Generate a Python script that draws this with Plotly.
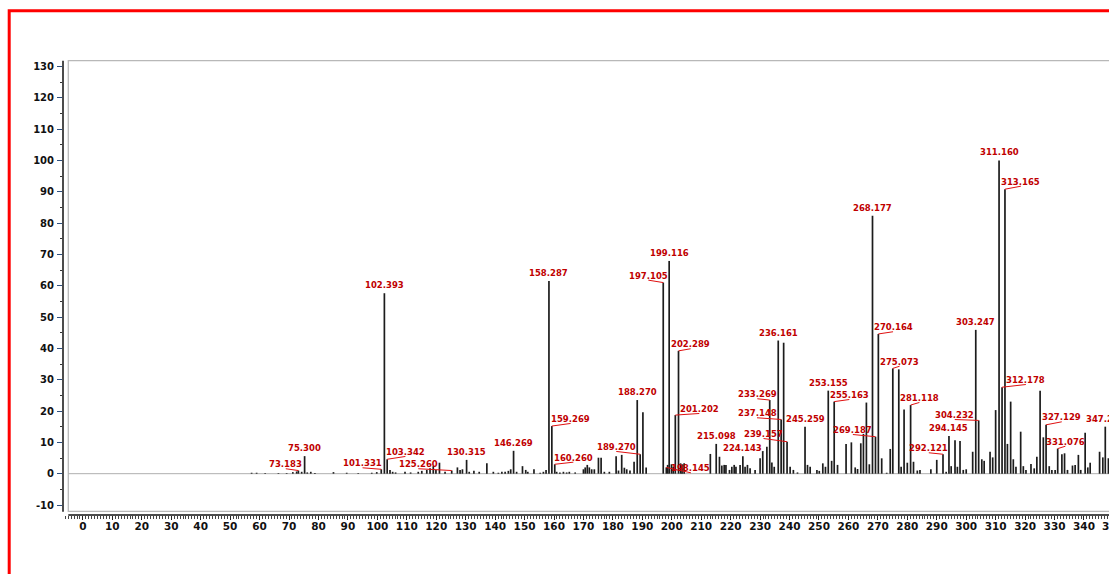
import plotly.graph_objects as go

# ---- spectrum data: m/z and relative abundance (%) ----
peak_mz = [
    57.3, 59.0, 61.9, 66.4, 69.2, 71.3, 72.6, 73.183, 74.3, 75.300, 76.2, 77.4, 78.8,
    85.1, 89.6, 93.5, 98.1, 99.8, 101.331, 102.393, 103.342, 104.3, 105.2, 106.2,
    109.4, 111.3, 113.9, 115.1, 116.8, 117.9, 119.0, 119.9, 121.1, 123.0, 125.260,
    127.2, 128.1, 128.9, 130.315, 131.2, 132.8, 134.6, 137.2, 139.4, 141.1, 142.3,
    143.4, 144.5, 145.3, 146.269, 147.3, 149.3, 150.4, 151.1, 153.2, 155.3, 156.4,
    157.3, 158.287, 159.269, 160.260, 160.9, 162.0, 163.2, 164.3, 165.2, 167.2,
    170.0, 170.6, 171.3, 172.0, 172.8, 173.7, 175.1, 176.0, 177.1, 178.8, 181.1,
    181.9, 183.0, 183.9, 184.7, 185.8, 187.2, 188.270, 189.270, 190.2, 191.3,
    197.105, 198.145, 198.6, 199.116, 199.9, 200.5, 201.202, 202.289, 203.0, 203.5,
    204.2, 213.1, 215.098, 216.2, 217.0, 217.8, 218.4, 219.6, 220.4, 221.2, 221.8,
    223.2, 224.143, 224.9, 225.7, 226.6, 228.3, 230.0, 230.9, 232.3, 233.269, 234.0,
    234.8, 236.161, 237.148, 238.0, 239.157, 240.2, 241.3, 242.7, 245.259, 246.1,
    247.0, 249.3, 250.1, 251.3, 252.2, 253.155, 254.3, 255.163, 256.3, 259.2, 261.0,
    262.3, 263.1, 264.2, 265.1, 266.1, 267.1, 268.177, 269.187, 270.164, 271.3,
    273.0, 274.2, 275.073, 277.1, 277.9, 278.9, 280.0, 281.118, 282.1, 283.4, 284.3,
    288.0, 290.0, 292.121, 293.2, 294.145, 294.9, 296.2, 297.0, 297.9, 299.0, 300.0,
    302.2, 303.247, 304.232, 305.3, 306.1, 308.1, 309.0, 310.0, 311.160, 312.178,
    313.165, 314.0, 315.1, 316.0, 316.9, 318.5, 319.4, 320.3, 322.0, 323.1, 324.0,
    325.1, 326.2, 327.129, 328.2, 329.1, 330.2, 331.076, 332.5, 333.4, 334.4, 336.1,
    337.0, 338.1, 338.9, 340.4, 341.3, 342.1, 345.3, 346.4, 347.237, 348.3,
]
peak_int = [
    0.3, 0.3, 0.2, 0.2, 0.2, 0.5, 0.7, 1.0, 0.6, 5.6, 0.4, 0.6, 0.2,
    0.5, 0.3, 0.2, 0.3, 0.5, 1.4, 57.6, 4.6, 1.2, 0.6, 0.4,
    0.6, 0.4, 0.6, 0.9, 1.2, 1.7, 2.4, 1.2, 3.5, 0.6, 1.0,
    2.0, 1.2, 1.4, 4.4, 0.6, 0.9, 0.6, 3.3, 0.6, 0.3, 0.6,
    0.6, 0.9, 1.4, 7.3, 0.6, 2.4, 1.2, 0.6, 1.4, 0.3, 0.6,
    1.2, 61.5, 15.2, 3.0, 0.6, 0.4, 0.6, 0.4, 0.6, 0.4,
    1.4, 2.0, 2.8, 2.0, 1.4, 1.4, 5.1, 5.1, 0.6, 0.6, 5.6,
    1.0, 6.0, 1.9, 1.4, 1.0, 3.8, 23.5, 6.2, 19.6, 2.0,
    61.0, 2.0, 2.8, 67.9, 3.0, 2.2, 18.7, 39.2, 3.3, 3.0,
    3.3, 6.3, 9.5, 5.4, 2.6, 2.8, 2.8, 1.2, 2.2, 2.8, 2.2,
    2.8, 5.6, 2.2, 2.8, 1.7, 1.2, 4.9, 7.2, 8.6, 23.5, 3.6,
    2.2, 42.5, 17.3, 41.8, 10.2, 2.2, 1.2, 0.4, 15.0, 2.8,
    2.2, 1.2, 0.9, 3.3, 2.2, 26.5, 4.1, 23.0, 2.8, 9.5, 10.0,
    2.0, 1.5, 9.7, 12.7, 22.7, 3.0, 82.3, 11.8, 44.6, 4.9,
    0.3, 7.9, 33.6, 33.3, 2.2, 20.5, 3.5, 21.9, 3.8, 1.0, 1.2,
    1.4, 4.4, 6.2, 0.6, 12.0, 2.4, 10.7, 2.2, 10.4, 1.2, 1.4,
    7.0, 45.9, 17.0, 4.6, 4.1, 7.0, 5.2, 20.3, 100.0, 27.6,
    90.8, 9.5, 23.0, 4.6, 2.2, 13.4, 2.4, 1.2, 3.1, 1.7, 5.4,
    26.5, 11.6, 15.6, 2.4, 1.2, 1.2, 8.0, 6.2, 6.5, 1.2, 2.6,
    2.8, 6.0, 1.2, 13.1, 2.0, 3.5, 7.0, 5.2, 15.0, 4.9,
]

# peaks annotated straight above the stick
top_labels = [75.300, 102.393, 130.315, 146.269, 158.287, 188.270, 199.116,
              215.098, 224.143, 236.161, 245.259, 253.155, 268.177, 294.145,
              303.247, 311.160, 347.237]
# peaks annotated beside the stick with a leader line
side_labels = [73.183, 101.331, 103.342, 125.260, 159.269, 160.260, 189.270,
               197.105, 198.145, 201.202, 202.289, 233.269, 237.148, 239.157,
               255.163, 269.187, 270.164, 275.073, 281.118, 292.121, 304.232,
               312.178, 313.165, 327.129, 331.076]

x_ticks = list(range(0, 351, 10))
y_ticks = list(range(-10, 131, 10))

# ---- layout geometry ----
W, H = 1109, 574
ML, MT, MB = 63, 60, 59
X_RANGE = [-6.76, 348.5]
Y_RANGE = [-13.19, 132.04]

# label offsets from the stick tip, in pixels (right, down)
side_offset = {
    73.183: (-12.6, -6.3), 101.331: (-18.7, -6.0), 103.342: (18.2, -7.3),
    125.260: (-33.4, -6.3), 159.269: (18.7, -7.1), 160.260: (18.6, -6.6),
    189.270: (-23.9, -7.3), 197.105: (-14.9, -6.9), 198.145: (24.6, 0.9),
    201.202: (24.0, -6.1), 202.289: (12.1, -6.6), 233.269: (-12.4, -5.8),
    237.148: (-24.1, -6.2), 239.157: (-23.5, -7.7), 255.163: (15.1, -6.6),
    269.187: (-22.6, -6.7), 270.164: (14.7, -6.7), 275.073: (6.8, -6.7),
    281.118: (8.8, -7.1), 292.121: (-14.2, -6.0), 304.232: (-23.9, -5.4),
    312.178: (23.8, -7.2), 313.165: (15.9, -7.5), 327.129: (15.7, -7.5),
    331.076: (7.7, -6.9),
}

abundance = dict(zip(peak_mz, peak_int))

# sticks: one polyline broken by gaps
xs, ys = [], []
for m, a in zip(peak_mz, peak_int):
    xs += [m, m, None]
    ys += [0, a, None]

fig = go.Figure()
fig.add_trace(go.Scatter(x=xs, y=ys, mode="lines",
                         line=dict(color="#1c1c1c", width=1.7),
                         hoverinfo="skip", showlegend=False))

label_font = dict(family="DejaVu Sans", size=8.5, color="#c00000", weight="bold")
annotations = []
shapes = []

for m in top_labels:
    annotations.append(dict(x=m, y=abundance[m], xref="x", yref="y",
                            text=f"{m:.3f}", showarrow=False,
                            xanchor="center", yanchor="bottom", yshift=1,
                            font=label_font))

for m in side_labels:
    dx, dy = side_offset[m]
    annotations.append(dict(x=m, y=abundance[m], xref="x", yref="y",
                            text=f"{m:.3f}", showarrow=False,
                            xanchor="center", yanchor="middle",
                            xshift=dx, yshift=-dy, font=label_font))
    shapes.append(dict(type="line", xref="x", yref="y",
                       xsizemode="pixel", ysizemode="pixel",
                       xanchor=m, yanchor=abundance[m],
                       x0=0, y0=0, x1=dx, y1=-(dy + 4.5),
                       line=dict(color="#e01010", width=1)))

tick_font = dict(family="DejaVu Sans", size=10.5, color="#111", weight="bold")

# tick label that sits just past the right edge of the axis
x_span = X_RANGE[1] - X_RANGE[0]
edge_tick = x_ticks[-1]
annotations.append(dict(x=(edge_tick - X_RANGE[0]) / x_span, y=0,
                        xref="paper", yref="paper", text=str(edge_tick),
                        showarrow=False, xanchor="center", yanchor="top", yshift=-3,
                        font=tick_font))

plot_w = W - ML
plot_h = H - MT - MB
px_x = lambda p: (p - ML) / plot_w
px_y = lambda p: (H - MB - p) / plot_h

# outer red frame
shapes.append(dict(type="rect", xref="paper", yref="paper",
                   x0=px_x(9.2), x1=1.3, y0=-0.4, y1=px_y(10.8),
                   line=dict(color="#ff0000", width=3), layer="above"))
# light grey plot frame
shapes.append(dict(type="rect", xref="paper", yref="paper",
                   x0=px_x(68.3), x1=1.2, y0=px_y(511.3), y1=px_y(60.6),
                   line=dict(color="#b8b8b8", width=1.3), layer="below"))
# baseline
shapes.append(dict(type="line", xref="paper", yref="y",
                   x0=px_x(68.3), x1=1.2, y0=0, y1=0,
                   line=dict(color="#b0b0b0", width=1), layer="below"))
# detached axis lines
shapes.append(dict(type="line", xref="paper", yref="paper",
                   x0=0, x1=0, y0=px_y(511.8), y1=px_y(60.8),
                   line=dict(color="#111", width=1.5)))
shapes.append(dict(type="line", xref="paper", yref="paper",
                   x0=px_x(68.3), x1=1.2, y0=0, y1=0,
                   line=dict(color="#111", width=1.3)))

fig.update_layout(
    width=W, height=H,
    margin=dict(l=ML, r=0, t=MT, b=MB, pad=0),
    paper_bgcolor="white", plot_bgcolor="white",
    showlegend=False,
    annotations=annotations,
    shapes=shapes,
    xaxis=dict(range=X_RANGE, tickmode="array", tickvals=x_ticks,
               ticktext=[str(v) for v in x_ticks],
               ticks="outside", ticklen=4, tickwidth=1, tickcolor="#222",
               ticklabelstandoff=-3,
               showline=False, showgrid=False, zeroline=False,
               tickfont=tick_font,
               minor=dict(tickmode="linear", tick0=0, dtick=1, ticks="outside",
                          ticklen=2.5, tickwidth=1, tickcolor="#444",
                          showgrid=False)),
    yaxis=dict(range=Y_RANGE, tickmode="array", tickvals=y_ticks,
               ticktext=[str(v) for v in y_ticks],
               ticks="outside", ticklen=5, tickwidth=1.2, tickcolor="#2e4f7f",
               ticklabelstandoff=1,
               showline=False, showgrid=False, zeroline=False,
               tickfont=dict(family="DejaVu Sans", size=10, color="#111",
                             weight="bold"),
               minor=dict(tickmode="linear", tick0=0, dtick=5, ticks="outside",
                          ticklen=2.5, tickwidth=1, tickcolor="#333",
                          showgrid=False)),
)

fig.write_html("out.html")
